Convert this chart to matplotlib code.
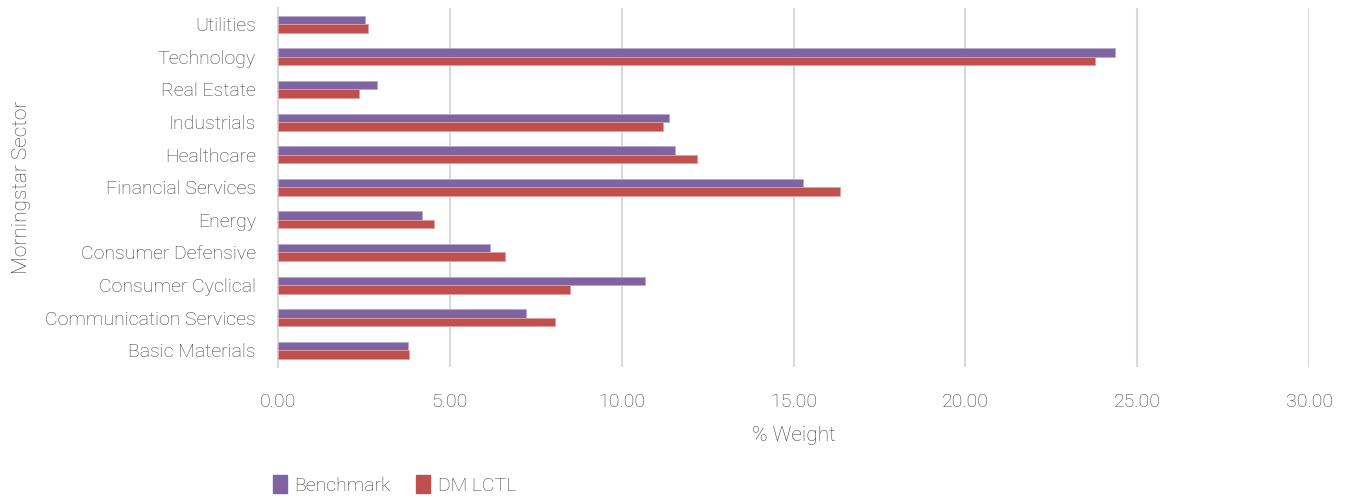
import matplotlib
matplotlib.use("Agg")
import matplotlib.pyplot as plt
from matplotlib.patches import Patch

sectors = [
    "Basic Materials",
    "Communication Services",
    "Consumer Cyclical",
    "Consumer Defensive",
    "Energy",
    "Financial Services",
    "Healthcare",
    "Industrials",
    "Real Estate",
    "Technology",
    "Utilities",
]
benchmark = [3.78, 7.22, 10.68, 6.18, 4.19, 15.26, 11.54, 11.38, 2.87, 24.36, 2.54]
dm_lctl = [3.81, 8.05, 8.50, 6.61, 4.53, 16.34, 12.20, 11.20, 2.37, 23.78, 2.63]
xticks = [0, 5, 10, 15, 20, 25, 30]

PURPLE = "#8064A2"
RED = "#C0504D"
TEXT = "#404040"
GRID = "#D9D9D9"

plt.rcParams["font.family"] = ["Roboto", "DejaVu Sans"]
plt.rcParams["font.weight"] = "light"
plt.rcParams["axes.labelweight"] = "light"

fig = plt.figure(figsize=(13.51, 4.98), dpi=100)
ax = fig.add_axes([0.2058, 0.264, 0.7632, 0.720])

ypos = list(range(len(sectors)))
h = 0.26
ax.barh([y + h / 2 for y in ypos], benchmark, height=h, color=PURPLE,
        edgecolor="#B9A8CC", linewidth=0.6, zorder=3)
ax.barh([y - h / 2 for y in ypos], dm_lctl, height=h, color=RED,
        edgecolor="#E0A09E", linewidth=0.6, zorder=3)

ax.set_xlim(0, 30)
ax.set_ylim(-0.5, len(sectors) - 0.5)
ax.set_xticks(xticks)
ax.set_xticklabels([f"{v:.2f}" for v in xticks])
ax.set_yticks(ypos)
ax.set_yticklabels(sectors)
ax.tick_params(axis="both", length=0, labelsize=14, colors=TEXT)
ax.tick_params(axis="x", pad=19)
ax.tick_params(axis="y", pad=16)

ax.grid(axis="x", color=GRID, linewidth=1.5, zorder=0)
for side in ["top", "right", "bottom"]:
    ax.spines[side].set_visible(False)
ax.spines["left"].set_color(GRID)
ax.spines["left"].set_linewidth(1.5)

ax.set_xlabel("% Weight", fontsize=15, color=TEXT, labelpad=11)
fig.text(0.016, 0.624, "Morningstar Sector", rotation=90, fontsize=15,
         color=TEXT, ha="center", va="center")

handles = [Patch(color=PURPLE, label="Benchmark"), Patch(color=RED, label="DM LCTL")]
fig.legend(handles=handles, loc="center", bbox_to_anchor=(0.292, 0.026), ncol=2,
           frameon=False, fontsize=14, labelcolor=TEXT, handlelength=0.7,
           handleheight=1.0, handletextpad=0.4, columnspacing=1.3)

fig.savefig("out.png", dpi=100)
